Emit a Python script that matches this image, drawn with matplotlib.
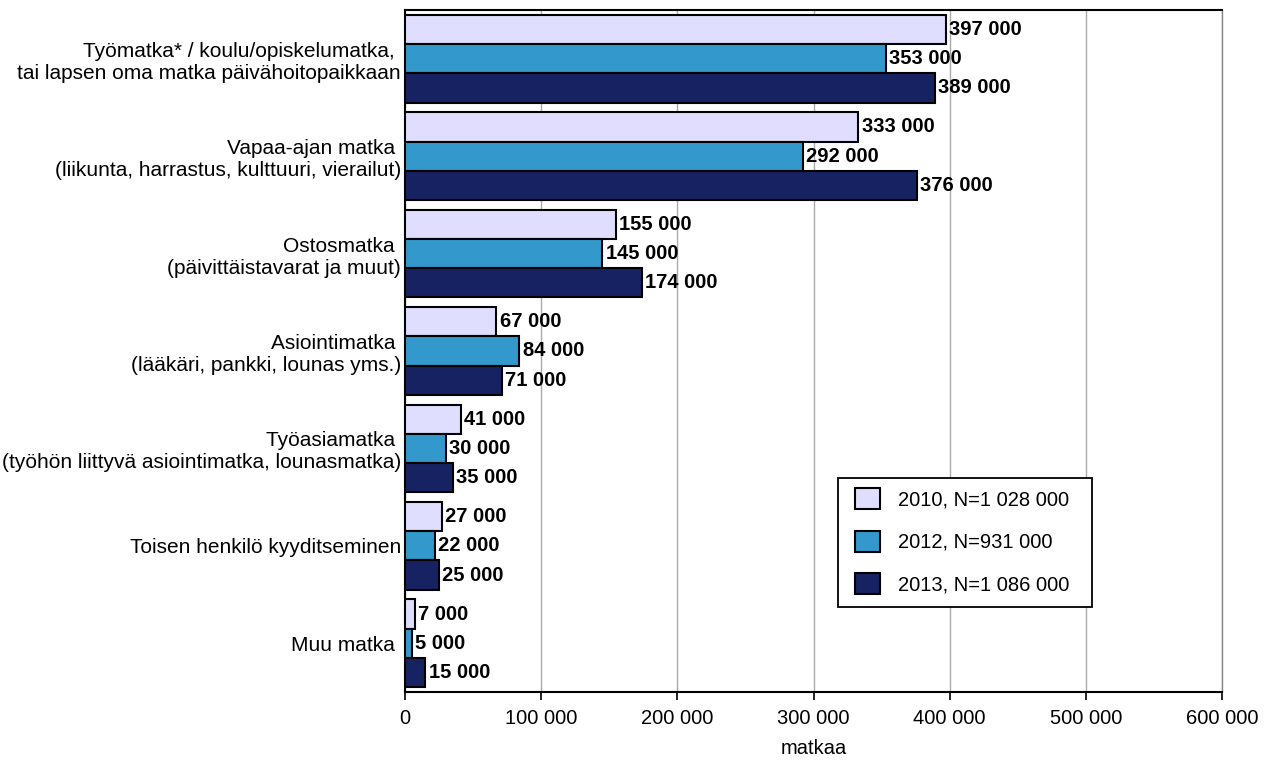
import matplotlib
matplotlib.use("Agg")
import matplotlib.pyplot as plt
from matplotlib.patches import Rectangle
import numpy as np

categories = [
    "Työmatka* / koulu/opiskelumatka, \ntai lapsen oma matka päivähoitopaikkaan",
    "Vapaa-ajan matka \n(liikunta, harrastus, kulttuuri, vierailut)",
    "Ostosmatka \n(päivittäistavarat ja muut)",
    "Asiointimatka \n(lääkäri, pankki, lounas yms.)",
    "Työasiamatka \n(työhön liittyvä asiointimatka, lounasmatka)",
    "Toisen henkilö kyyditseminen",
    "Muu matka ",
]
series_names = ["2010, N=1 028 000", "2012, N=931 000", "2013, N=1 086 000"]
v2010 = [397000, 333000, 155000, 67000, 41000, 27000, 7000]
v2012 = [353000, 292000, 145000, 84000, 30000, 22000, 5000]
v2013 = [389000, 376000, 174000, 71000, 35000, 25000, 15000]
xticks = [0, 100000, 200000, 300000, 400000, 500000, 600000]
xtick_labels = ["0", "100 000", "200 000", "300 000", "400 000", "500 000", "600 000"]
colors = ["#E0DEFF", "#3399CC", "#172262"]

plt.rcParams['font.family'] = ['Liberation Sans', 'DejaVu Sans']
FS = 14.5
W, H = 1271, 760
fig = plt.figure(figsize=(W / 100, H / 100), dpi=100)
ax = fig.add_axes([405 / W, 1 - 692 / H, (1222 - 405) / W, (692 - 10) / H])

n = len(categories)
ypos = np.arange(n)
h = 0.3
for i, (vals, col, name) in enumerate(zip([v2010, v2012, v2013], colors, series_names)):
    y = ypos + (i - 1) * h
    ax.barh(y, vals, height=h, color=col, edgecolor="black", linewidth=1.5, label=name, zorder=3)
    for yy, v in zip(y, vals):
        ax.text(v + 2500, yy, f"{v//1000} 000", va="center", ha="left",
                fontsize=FS, fontweight="bold", zorder=4)

ax.set_ylim(n - 0.5, -0.5)
ax.set_xlim(0, 600000)
ax.set_yticks(ypos)
ax.set_yticklabels(categories, fontsize=15, multialignment="right", linespacing=1.2)
ax.tick_params(axis="y", length=0, pad=3)
ax.set_xticks(xticks)
ax.set_xticklabels(xtick_labels, fontsize=FS)
ax.tick_params(axis="x", length=6, width=1.2, direction="out", pad=6)
ax.set_xlabel("matkaa", fontsize=FS, labelpad=8)
ax.grid(axis="x", color="#AAAAAA", linewidth=1, zorder=0)
for s in ["left", "bottom", "top"]:
    ax.spines[s].set_linewidth(1.5)
    ax.spines[s].set_color("black")
ax.spines["right"].set_color("#888888")
ax.spines["right"].set_linewidth(1)

# legend frame drawn manually in figure pixel coordinates
frame = Rectangle((838 / W, 1 - 607 / H), (1092 - 838) / W, (607 - 478) / H,
                  transform=fig.transFigure, facecolor="white", edgecolor="black",
                  linewidth=1.3, zorder=5)
fig.patches.append(frame)
leg = fig.legend(*ax.get_legend_handles_labels(), loc="upper left",
                 bbox_to_anchor=(855 / W, 1 - 488 / H),
                 fontsize=FS, frameon=False,
                 handlelength=1.25, handleheight=1.25, labelspacing=1.05, borderpad=0,
                 handletextpad=0.9, borderaxespad=0)
leg.set_zorder(6)

fig.savefig("out.png", dpi=100, facecolor="white")
